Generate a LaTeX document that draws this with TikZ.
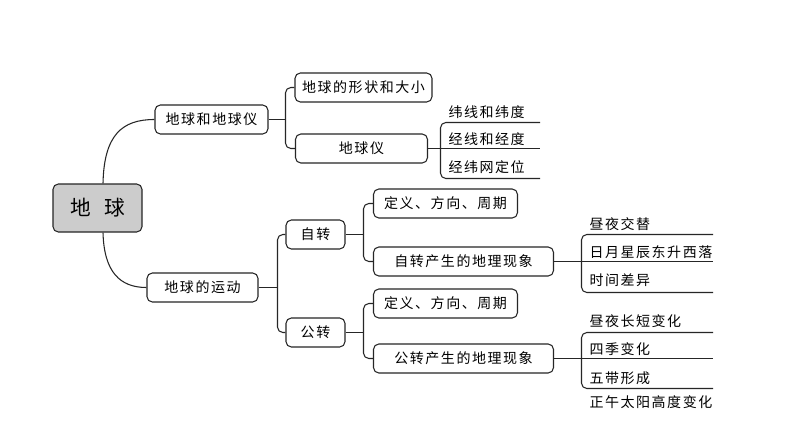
\documentclass[tikz,border=0pt]{standalone}
\usepackage{fontspec}
\newfontfamily\cjk[LetterSpace=11]{Noto Sans CJK SC}
\newfontfamily\cjkb{Noto Sans CJK SC}
\usetikzlibrary{calc}
\begin{document}
\begin{tikzpicture}[x=0.75pt,y=-0.75pt,
  line width=0.8pt,
  txt/.style={font=\cjk\fontsize{10.5}{12}\selectfont},
  box/.style={draw=black!85, rounded corners=4pt, inner sep=0pt, align=center, txt},
  sz/.style 2 args={minimum width=#1*0.75pt, minimum height=#2*0.75pt},
  lbl/.style={anchor=west, inner sep=0pt, txt},
  conn/.style={draw=black!85, line width=0.8pt, rounded corners=4pt}]

\useasboundingbox (0,0) rectangle (794,447);
\fill[white] (0,0) rectangle (794,447);

% nodes
\node[box, fill=black!20, sz={89}{48}, font=\cjkb\fontsize{15.5}{18}\selectfont] (ctr) at (97.5,208) {地\hspace{10pt}球};
\node[box, sz={113}{29}] (a1) at (211.5,119.5) {地球和地球仪};
\node[box, sz={111}{29}] (a2) at (202.5,287.5) {地球的运动};
\node[box, sz={137}{29}] (b1) at (363.5,87.5) {地球的形状和大小};
\node[box, sz={132}{29}] (b2) at (361.5,148.5) {地球仪};
\node[box, sz={59}{29}] (c1) at (315.5,234.5) {自转};
\node[box, sz={59}{29}] (c2) at (315.5,332.5) {公转};
\node[box, sz={144}{29}] (d1) at (445.5,203.5) {定义、方向、周期};
\node[box, sz={180}{29}] (d2) at (463.5,261.5) {自转产生的地理现象};
\node[box, sz={144}{29}] (d3) at (445.5,303.5) {定义、方向、周期};
\node[box, sz={180}{29}] (d4) at (463.5,358.5) {公转产生的地理现象};

% curves from centre
\draw[conn] ($(ctr.north)+(5.5,0)$) .. controls (104,135) and (122,119.5) .. (a1.west);
\draw[conn] ($(ctr.south)+(5.5,0)$) .. controls (104,272) and (120,287.5) .. (a2.west);

% brackets between boxes
\coordinate (ja) at (285.5,0);
\draw[conn] (a1.east) -- (a1.east -| ja);
\draw[conn] (b1.west) -- (b1.west -| ja) -- (b2.west -| ja) -- (b2.west);

\coordinate (jb) at (277.5,0);
\draw[conn] (a2.east) -- (a2.east -| jb);
\draw[conn] (c1.west) -- (c1.west -| jb) -- (c2.west -| jb) -- (c2.west);

\coordinate (jc) at (363.5,0);
\draw[conn] (c1.east) -- (c1.east -| jc);
\draw[conn] (d1.west) -- (d1.west -| jc) -- (d2.west -| jc) -- (d2.west);
\draw[conn] (c2.east) -- (c2.east -| jc);
\draw[conn] (d3.west) -- (d3.west -| jc) -- (d4.west -| jc) -- (d4.west);

% list under 地球仪
\coordinate (jk) at (440.5,0);
\coordinate (e1) at (540,122.5);
\coordinate (e2) at (540,148.5);
\coordinate (e3) at (540,178.5);
\draw[conn] (e1) -- (e1 -| jk) -- (e3 -| jk) -- (e3);
\draw[conn] (b2.east) -- (e2);

% list under 自转产生的地理现象
\coordinate (jm) at (581.5,0);
\coordinate (f1) at (713,234.5);
\coordinate (f2) at (713,261.5);
\coordinate (f3) at (713,292.5);
\draw[conn] (f1) -- (f1 -| jm) -- (f3 -| jm) -- (f3);
\draw[conn] (d2.east) -- (f2);

% list under 公转产生的地理现象
\coordinate (g1) at (713,332.5);
\coordinate (g2) at (713,358.5);
\coordinate (g3) at (713,388.5);
\draw[conn] (g1) -- (g1 -| jm) -- (g3 -| jm) -- (g3);
\draw[conn] (d4.east) -- (g2);

% labels
\node[lbl] (t1) at (448,112) {纬线和纬度};
\node[lbl] (t2) at (448,139) {经线和经度};
\node[lbl] (t3) at (448,167) {经纬网定位};
\node[lbl] (u1) at (589,224) {昼夜交替};
\node[lbl] (u2) at (589,252) {日月星辰东升西落};
\node[lbl] (u3) at (589,280) {时间差异};
\node[lbl] (v1) at (589,321) {昼夜长短变化};
\node[lbl] (v2) at (589,349) {四季变化};
\node[lbl] (v3) at (589,378) {五带形成};
\node[lbl] (v4) at (589,402) {正午太阳高度变化};
\end{tikzpicture}
\end{document}
